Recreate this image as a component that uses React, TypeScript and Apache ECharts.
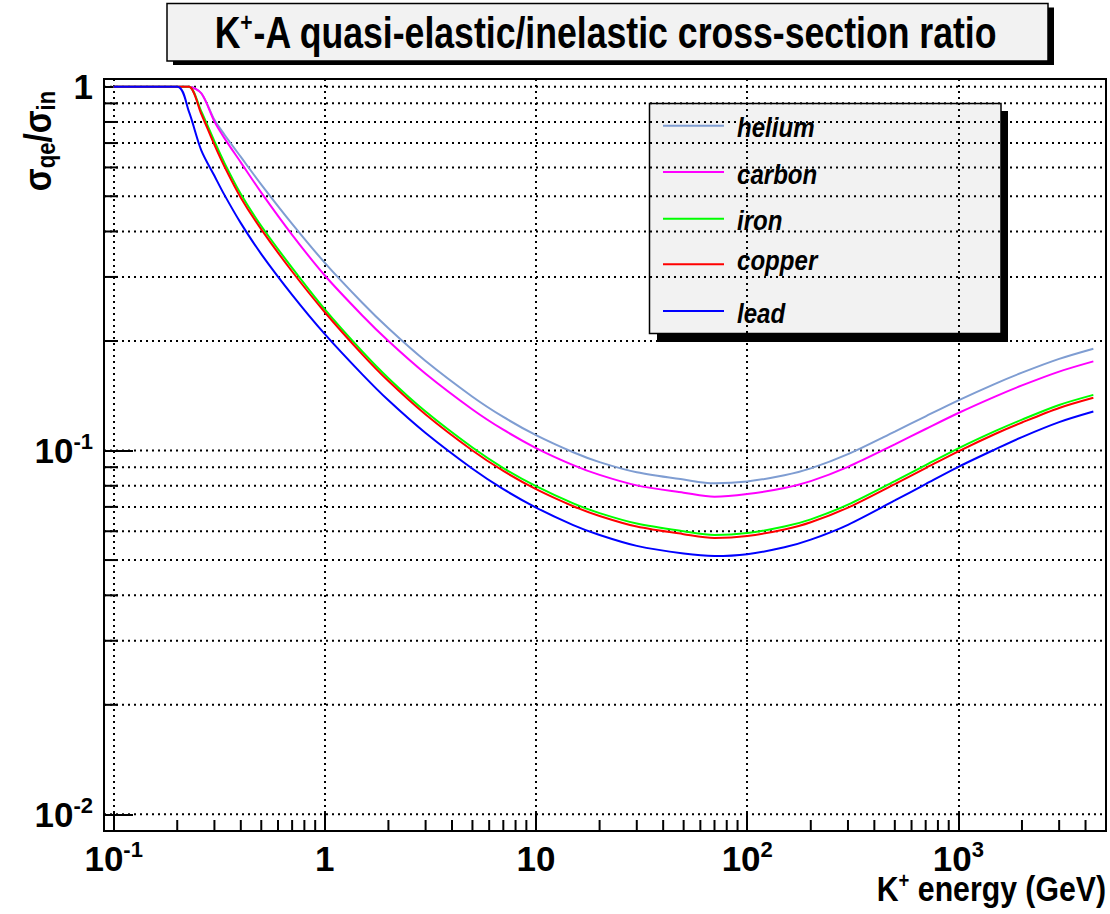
import React, { useEffect, useRef } from 'react';
import * as echarts from 'echarts';

// Kaon energy grid (GeV) shared by all curves
const ENERGY = [0.1, 0.2, 0.227, 0.26, 0.3, 0.335, 0.4, 0.5, 0.7, 1, 1.5, 2, 3, 5, 7, 10, 15, 20, 30, 50, 70, 100, 150, 200, 300, 500, 700, 1000, 1500, 2000, 3000, 4356];

// sigma_qe / sigma_in for each target nucleus
const HELIUM = [1, 1, 1, 0.9594, 0.811, 0.7379, 0.6412, 0.5383, 0.4198, 0.3281, 0.2553, 0.2168, 0.1762, 0.1406, 0.1237, 0.1102, 0.0989, 0.0929, 0.0871, 0.0832, 0.0813, 0.0822, 0.0855, 0.0893, 0.0977, 0.1127, 0.1242, 0.1374, 0.1528, 0.1637, 0.1786, 0.1905];
const CARBON = [1, 1, 1, 0.9594, 0.8017, 0.7211, 0.6194, 0.5117, 0.3917, 0.3027, 0.2355, 0.2, 0.1626, 0.1297, 0.1141, 0.1016, 0.0912, 0.0857, 0.0802, 0.0766, 0.0746, 0.0759, 0.0789, 0.0824, 0.0902, 0.104, 0.1146, 0.1268, 0.1409, 0.151, 0.1648, 0.1758];
const IRON = [1, 1, 1, 0.855, 0.7079, 0.6166, 0.507, 0.414, 0.3177, 0.2443, 0.1875, 0.1581, 0.128, 0.1019, 0.0895, 0.0798, 0.0716, 0.0673, 0.063, 0.06, 0.0586, 0.0593, 0.0618, 0.0647, 0.071, 0.0824, 0.0912, 0.1014, 0.1132, 0.1216, 0.1334, 0.1422];
const COPPER = [1, 1, 1, 0.8414, 0.6918, 0.6026, 0.4955, 0.4055, 0.3105, 0.2399, 0.1841, 0.1552, 0.1256, 0.1, 0.0879, 0.0783, 0.0703, 0.0661, 0.0618, 0.0589, 0.0575, 0.0582, 0.0607, 0.0635, 0.0697, 0.0809, 0.0895, 0.0995, 0.1112, 0.1194, 0.1309, 0.1396];
const LEAD = [1, 1, 0.855, 0.6683, 0.5689, 0.5035, 0.4217, 0.3467, 0.2679, 0.2089, 0.1622, 0.1374, 0.1117, 0.0891, 0.0783, 0.0697, 0.0624, 0.0586, 0.0547, 0.0521, 0.0513, 0.0519, 0.0542, 0.0569, 0.0625, 0.0729, 0.0809, 0.0902, 0.1009, 0.1089, 0.1197, 0.128];

const SERIES_NAMES = ['helium', 'carbon', 'iron', 'copper', 'lead'];
const SERIES_VALUES = [HELIUM, CARBON, IRON, COPPER, LEAD];
const SERIES_COLORS = ['#7f9dd2', '#ff00ff', '#00ff00', '#ff0000', '#0000ff'];

// axis ranges and tick labels
const X_MIN = 0.09;
const X_MAX = 5000;
const Y_MIN = 0.009;
const Y_MAX = 1.05;
const X_DECADES = [0.1, 1, 10, 100, 1000];
const X_TICK_LABELS = ['10^-1', '1', '10', '10^2', '10^3'];
const Y_DECADES = [0.01, 0.1, 1];
const Y_TICK_LABELS = ['10^-2', '10^-1', '1'];
const X_MINOR = [0.2, 0.3, 0.4, 0.5, 0.6, 0.7, 0.8, 0.9, 2, 3, 4, 5, 6, 7, 8, 9, 20, 30, 40, 50, 60, 70, 80, 90, 200, 300, 400, 500, 600, 700, 800, 900, 2000, 3000, 4000];
const Y_MINOR = [0.02, 0.03, 0.04, 0.05, 0.06, 0.07, 0.08, 0.09, 0.2, 0.3, 0.4, 0.5, 0.6, 0.7, 0.8, 0.9];
const Y_GRID = [0.01, ...Y_MINOR.slice(0, 8), 0.1, ...Y_MINOR.slice(8), 1];

// texts split into [base, superscript, rest]
const TITLE_PARTS = ['K', '+', '-A quasi-elastic/inelastic cross-section ratio'];
const X_TITLE_PARTS = ['K', '+', ' energy (GeV)'];

const FONT = "'Liberation Sans', Arial, sans-serif";

const toRich = (s: string) => {
  const [base, exp] = s.split('^');
  return exp !== undefined ? `{b|${base}}{s|${exp}}` : `{b|${base}}`;
};

const decadeLabel = (v: number, decades: number[], labels: string[]) => {
  const i = decades.findIndex((d) => Math.abs(Math.log10(v) - Math.log10(d)) < 1e-6);
  return i >= 0 ? toRich(labels[i]) : '';
};

const labelRich = {
  b: { fontSize: 35, fontWeight: 'bold', fontFamily: FONT, color: '#000', lineHeight: 40 },
  s: { fontSize: 22, fontWeight: 'bold', fontFamily: FONT, color: '#000', lineHeight: 22, verticalAlign: 'top' },
};

const dotted = { stroke: '#000', lineWidth: 2, lineDash: [2, 4] };

const LEGEND_LINE_Y = [125.7, 172, 218.7, 264.3, 311];
const LEGEND_TEXT_Y = [127, 174, 220, 260, 313];

export default function App() {
  const ref = useRef<HTMLDivElement>(null);

  useEffect(() => {
    if (!ref.current) return;
    const chart = echarts.init(ref.current, undefined, { renderer: 'svg' });

    const lineSeries = SERIES_NAMES.map((name, k) => ({
      name,
      type: 'line',
      data: ENERGY.map((e, i) => [e, SERIES_VALUES[k][i]]),
      showSymbol: false,
      smooth: 0.3,
      z: 3,
      lineStyle: { color: SERIES_COLORS[k], width: 2 },
      itemStyle: { color: SERIES_COLORS[k] },
    }));

    const yGridSeries = {
      type: 'custom',
      silent: true,
      z: 1,
      data: Y_GRID.map((v) => [X_MIN, v]),
      renderItem: (params: any, api: any) => {
        const p = api.coord([api.value(0), api.value(1)]);
        const cs = params.coordSys;
        return {
          type: 'line',
          shape: { x1: cs.x, y1: p[1], x2: cs.x + cs.width, y2: p[1] },
          style: dotted,
        };
      },
    };

    const xMinorTicks = {
      type: 'custom',
      silent: true,
      z: 4,
      data: X_MINOR.map((v) => [v, Y_MIN]),
      renderItem: (params: any, api: any) => {
        const p = api.coord([api.value(0), api.value(1)]);
        const cs = params.coordSys;
        const yb = cs.y + cs.height;
        return {
          type: 'line',
          shape: { x1: p[0], y1: yb, x2: p[0], y2: yb - 11 },
          style: { stroke: '#000', lineWidth: 2 },
        };
      },
    };

    const yMinorTicks = {
      type: 'custom',
      silent: true,
      z: 4,
      data: Y_MINOR.map((v) => [X_MIN, v]),
      renderItem: (params: any, api: any) => {
        const p = api.coord([api.value(0), api.value(1)]);
        const cs = params.coordSys;
        return {
          type: 'line',
          shape: { x1: cs.x, y1: p[1], x2: cs.x + 14, y2: p[1] },
          style: { stroke: '#000', lineWidth: 2 },
        };
      },
    };

    const legendChildren: any[] = [
      { type: 'rect', shape: { x: 657, y: 111, width: 351, height: 231 }, style: { fill: '#000' } },
      { type: 'rect', shape: { x: 649.5, y: 103.5, width: 351.5, height: 230 }, style: { fill: '#f2f2f2', stroke: '#000', lineWidth: 1.5 } },
    ];
    SERIES_NAMES.forEach((name, i) => {
      legendChildren.push({
        type: 'line',
        shape: { x1: 663, y1: LEGEND_LINE_Y[i], x2: 724, y2: LEGEND_LINE_Y[i] },
        style: { stroke: SERIES_COLORS[i], lineWidth: 2 },
      });
      legendChildren.push({
        type: 'text',
        x: 737,
        y: LEGEND_TEXT_Y[i],
        scaleX: 0.86,
        style: {
          text: name,
          fontSize: 28,
          fontWeight: 'bold',
          fontStyle: 'italic',
          fontFamily: FONT,
          fill: '#000',
          align: 'left',
          verticalAlign: 'middle',
        },
      });
    });

    const supRich = (size: number, sup: number) => ({
      b: { fontSize: size, fontWeight: 'bold', fontFamily: FONT, fill: '#000', lineHeight: size + 4 },
      s: { fontSize: sup, fontWeight: 'bold', fontFamily: FONT, fill: '#000', lineHeight: sup, verticalAlign: 'top' },
    });

    const option: any = {
      animation: false,
      backgroundColor: '#fff',
      grid: {
        left: 104,
        top: 79,
        right: 4,
        bottom: 83,
        show: true,
        borderColor: '#000',
        borderWidth: 2,
        backgroundColor: 'transparent',
        containLabel: false,
      },
      xAxis: {
        type: 'log',
        min: X_MIN,
        max: X_MAX,
        axisLine: { show: false },
        axisTick: { show: true, inside: true, length: 19, lineStyle: { color: '#000', width: 2 } },
        splitLine: { show: true, lineStyle: { color: '#000', width: 2, type: [2, 4] } },
        axisLabel: {
          margin: 7,
          showMinLabel: false,
          showMaxLabel: false,
          formatter: (v: number) => decadeLabel(v, X_DECADES, X_TICK_LABELS),
          rich: labelRich,
        },
      },
      yAxis: {
        type: 'log',
        min: Y_MIN,
        max: Y_MAX,
        axisLine: { show: false },
        axisTick: { show: true, inside: true, length: 29, lineStyle: { color: '#000', width: 2 } },
        splitLine: { show: false },
        axisLabel: {
          margin: 11,
          showMinLabel: false,
          showMaxLabel: false,
          formatter: (v: number) => decadeLabel(v, Y_DECADES, Y_TICK_LABELS),
          rich: labelRich,
        },
      },
      series: [yGridSeries, ...lineSeries, xMinorTicks, yMinorTicks],
      graphic: [
        // title box with drop shadow
        { type: 'rect', shape: { x: 173, y: 7.5, width: 881, height: 57.5 }, style: { fill: '#000' } },
        { type: 'rect', shape: { x: 167, y: 3.5, width: 881, height: 57.5 }, style: { fill: '#f2f2f2', stroke: '#000', lineWidth: 1.5 } },
        {
          type: 'text',
          x: 606,
          y: 33,
          scaleX: 0.81,
          style: {
            text: `{b|${TITLE_PARTS[0]}}{s|${TITLE_PARTS[1]}}{b|${TITLE_PARTS[2]}}`,
            rich: supRich(44, 26),
            align: 'center',
            verticalAlign: 'middle',
          },
        },
        // y-axis title
        {
          type: 'text',
          x: 38,
          y: 141,
          rotation: Math.PI / 2,
          scaleX: 0.88,
          style: {
            text: '{g|σ}{u|qe}{g|/σ}{u|in}',
            rich: {
              g: { fontSize: 38, fontWeight: 'bold', fontFamily: FONT, fill: '#000', lineHeight: 42 },
              u: { fontSize: 25, fontWeight: 'bold', fontFamily: FONT, fill: '#000', lineHeight: 24, verticalAlign: 'bottom' },
            },
            align: 'center',
            verticalAlign: 'middle',
          },
        },
        // x-axis title
        {
          type: 'text',
          x: 1106,
          y: 889,
          scaleX: 0.84,
          style: {
            text: `{b|${X_TITLE_PARTS[0]}}{s|${X_TITLE_PARTS[1]}}{b|${X_TITLE_PARTS[2]}}`,
            rich: supRich(36, 22),
            align: 'right',
            verticalAlign: 'middle',
          },
        },
        { type: 'group', z: 10, children: legendChildren },
      ],
    };

    chart.setOption(option);
    return () => chart.dispose();
  }, []);

  return <div ref={ref} style={{ position: 'fixed', left: 0, top: 0, width: 1110, height: 914 }} />;
}
